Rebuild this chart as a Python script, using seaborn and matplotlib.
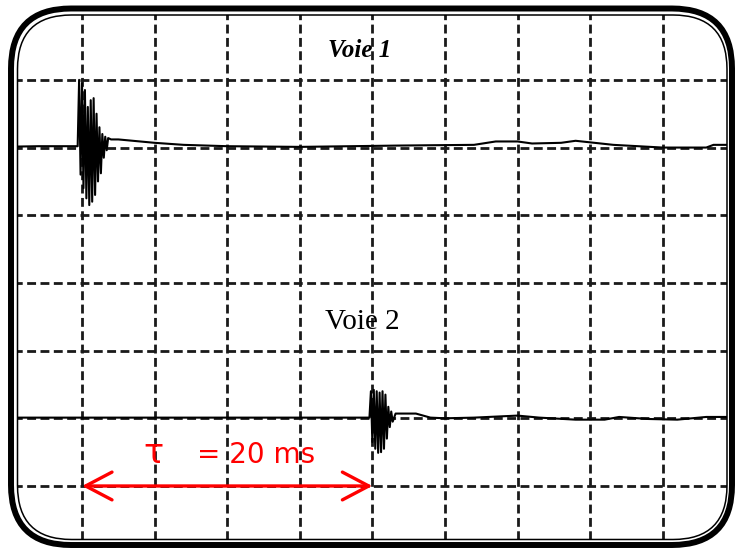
import matplotlib
matplotlib.use("Agg")
import matplotlib.pyplot as plt
import pandas as pd
import seaborn as sns
from matplotlib.patches import FancyBboxPatch

# Oscilloscope screen: time in ms (5 ms / division), amplitude in divisions
voie1_t = [-5.7, -3.0, -0.3, -0.2, -0.1, 0.0, 0.1, 0.2, 0.3, 0.4, 0.5, 0.6, 0.7,
           0.8, 0.9, 1.0, 1.1, 1.2, 1.3, 1.4, 1.5, 1.6, 1.7, 1.8, 2.0, 2.5, 5.0,
           7.0, 10.0, 15.0, 22.0, 27.0, 28.5, 30.0, 31.0, 33.0, 34.0, 36.6, 40.0,
           43.0, 43.5, 45.2]
voie1_v = [2.01, 2.02, 2.02, 3.0, 1.6, 2.95, 1.4, 2.85, 1.25, 2.6, 1.15, 2.7, 1.2,
           2.73, 1.3, 2.5, 1.5, 2.3, 1.62, 2.2, 1.85, 2.16, 1.96, 2.14, 2.12, 2.12, 2.07,
           2.04, 2.02, 2.01, 2.03, 2.04, 2.09, 2.09, 2.06, 2.07, 2.1, 2.04, 2.0,
           2.0, 2.04, 2.04]

voie2_t = [-5.7, 19.8, 19.9, 20.0, 20.1, 20.2, 20.3, 20.4, 20.5, 20.6, 20.7, 20.8,
           20.9, 21.0, 21.1, 21.2, 21.3, 21.4, 21.6, 23.0, 24.0, 25.0, 27.0, 30.0,
           31.5, 34.0, 36.0, 37.0, 39.0, 41.0, 43.0, 45.2]
voie2_v = [-1.99, -1.99, -1.6, -2.35, -1.58, -2.45, -1.6, -2.51, -1.62, -2.5, -1.6, -2.45,
           -1.65, -2.3, -1.83, -2.13, -1.9, -2.05, -1.93, -1.93, -1.99, -2.0, -1.99, -1.96,
           -1.99, -2.02, -2.02, -1.98, -2.01, -2.02, -1.98, -1.98]

channel_labels = ["Voie 1", "Voie 2"]
tau_ms = 20
tau_symbol = "τ"
tau_text = "= 20 ms"

sns.set_style("white")
fig = plt.figure(figsize=(7.36, 5.53), dpi=100)

# scope area (data coords), full figure
ax = fig.add_axes([0, 0, 1, 1], zorder=2)
ax.set_xlim(-5.65, 45.05)
ax.set_ylim(-3.99, 4.18)
ax.axis("off")
ax.patch.set_visible(False)

# pixel overlay for the bezel and labels
px = fig.add_axes([0, 0, 1, 1], zorder=3)
px.set_xlim(0, 736)
px.set_ylim(0, 553)
px.axis("off")
px.patch.set_visible(False)

outer = FancyBboxPatch((11, 8), 721, 536.5, boxstyle="round,pad=0,rounding_size=60",
                       fc="none", ec="black", lw=4.3, clip_on=False)
inner = FancyBboxPatch((17.5, 13.5), 709.5, 524.5, boxstyle="round,pad=0,rounding_size=54",
                       fc="none", ec="black", lw=1.1, clip_on=False)
px.add_patch(outer)
px.add_patch(inner)

# graticule
for gx in range(0, 45, 5):
    ln = ax.axvline(gx, color="#1a1a1a", lw=2.0, dashes=(3.2, 1.6))
    ln.set_clip_path(inner)
for gy in range(-3, 4):
    ln = ax.axhline(gy, color="#1a1a1a", lw=2.0, dashes=(3.2, 1.6))
    ln.set_clip_path(inner)

# traces
for t, v in [(voie1_t, voie1_v), (voie2_t, voie2_v)]:
    df = pd.DataFrame({"t": t, "v": v})
    sns.lineplot(data=df, x="t", y="v", ax=ax, color="black", lw=1.5,
                 estimator=None, sort=False)
for ln in ax.get_lines():
    ln.set_clip_path(inner)
ax.axis("off")

# labels
px.text(360, 496, channel_labels[0], ha="center", va="baseline", fontsize=18,
        family="Liberation Serif", weight="bold", style="italic", color="black")
px.text(362, 224, channel_labels[1], ha="center", va="baseline", fontsize=21,
        family="Liberation Serif", color="black")
px.text(153, 90, tau_symbol, ha="center", va="baseline", fontsize=24,
        family="DejaVu Sans", color="red")
px.text(197, 90, tau_text, ha="left", va="baseline", fontsize=20,
        family="DejaVu Sans", color="red")

# tau arrow
ax.annotate("", xy=(tau_ms, -3), xytext=(0, -3),
            arrowprops=dict(arrowstyle="<->,head_length=0.95,head_width=0.5",
                            color="red", lw=2.4, shrinkA=0, shrinkB=0,
                            mutation_scale=20))

fig.savefig("out.png", dpi=100, facecolor="white")
